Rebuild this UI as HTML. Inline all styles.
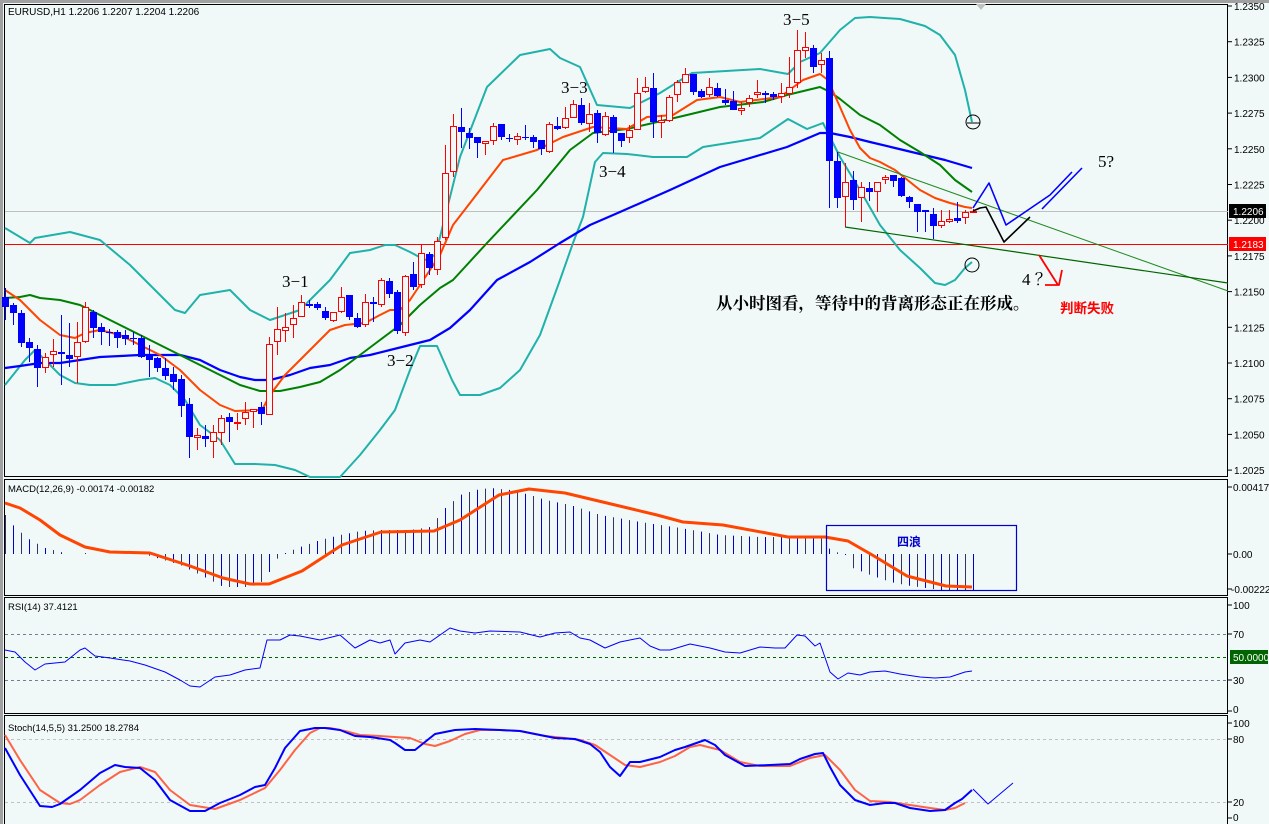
<!DOCTYPE html>
<html><head><meta charset="utf-8"><style>
html,body{margin:0;padding:0;background:#f0f8f8;}
svg{display:block;}
.ax{font-family:"Liberation Sans",sans-serif;font-size:10px;fill:#000;}
.lb{font-family:"Liberation Sans",sans-serif;font-size:9.5px;fill:#000;}
.wv{font-family:"Liberation Serif","Noto Serif CJK SC",serif;font-size:17px;fill:#000;}
</style></head><body>
<svg id="s" width="1269" height="824" viewBox="0 0 1269 824" xmlns="http://www.w3.org/2000/svg">
<rect x="0" y="0" width="1269" height="824" fill="#f0f8f8"/>
<rect x="0" y="0" width="1269" height="3" fill="#a0a0a0"/>
<rect x="0" y="0" width="3" height="824" fill="#a0a0a0"/>
<rect x="4.5" y="4.5" width="1223" height="472" fill="#f0f8f8" stroke="#000"/>
<rect x="4.5" y="479.5" width="1223" height="116" fill="#f0f8f8" stroke="#000"/>
<rect x="4.5" y="597.5" width="1223" height="116" fill="#f0f8f8" stroke="#000"/>
<rect x="4.5" y="715.5" width="1223" height="110" fill="#f0f8f8" stroke="#000"/>
<polygon points="976,4 986,4 981,10" fill="#c0c0c0"/>
<g id="g"></g>
<text class="lb" x="8" y="15" style="font-size:10px">EURUSD,H1  1.2206 1.2207 1.2204 1.2206</text>
<text class="lb" x="8" y="492">MACD(12,26,9) -0.00174 -0.00182</text>
<text class="lb" x="8" y="610">RSI(14) 37.4121</text>
<text class="lb" x="8" y="731">Stoch(14,5,5) 31.2500 18.2784</text>
<text class="wv" x="783" y="25">3−5</text>
<text class="wv" x="561" y="93">3−3</text>
<text class="wv" x="599" y="177">3−4</text>
<text class="wv" x="282" y="287">3−1</text>
<text class="wv" x="387" y="366">3−2</text>
<text class="wv" x="1098" y="167">5?</text>
<text class="wv" x="1022" y="285">4 ？</text>
<text x="716" y="309" style="font-family:'Liberation Serif','Noto Serif CJK SC',serif;font-size:16.5px;font-weight:bold;fill:#000">从小时图看，等待中的背离形态正在形成。</text>
<text x="1060" y="313" style="font-family:'Liberation Sans','Noto Sans CJK SC',sans-serif;font-size:13.5px;font-weight:bold;fill:#ff0000">判断失败</text>
<rect x="826.5" y="525.5" width="190" height="65" fill="none" stroke="#0000cc" stroke-width="1.2"/>
<text x="897" y="546" style="font-family:'Liberation Sans','Noto Sans CJK SC',sans-serif;font-size:12px;font-weight:bold;fill:#0000cc">四浪</text>
<g class="ax" id="ax"></g>
<rect x="1229" y="204" width="37" height="14" fill="#000"/>
<text class="ax" x="1233" y="215" style="fill:#fff">1.2206</text>
<rect x="1229" y="237" width="37" height="14" fill="#ff0000"/>
<text class="ax" x="1233" y="248" style="fill:#fff">1.2183</text>
<text class="ax" x="1233" y="491">0.00417</text>
<text class="ax" x="1233" y="558">0.00</text>
<text class="ax" x="1231" y="593">-0.00222</text>
<text class="ax" x="1233" y="609">100</text>
<text class="ax" x="1233" y="638">70</text>
<rect x="1230" y="650" width="38" height="14" fill="#006400"/>
<text class="ax" x="1233" y="661" style="fill:#fff">50.0000</text>
<text class="ax" x="1233" y="684">30</text>
<text class="ax" x="1233" y="713">0</text>
<text class="ax" x="1233" y="727">100</text>
<text class="ax" x="1233" y="743">80</text>
<text class="ax" x="1233" y="806">20</text>
<text class="ax" x="1233" y="821">0</text>
</svg>
<script>
(function(){
var NS="http://www.w3.org/2000/svg",G=document.getElementById("g");
function el(t,a){var e=document.createElementNS(NS,t);for(var k in a)e.setAttribute(k,a[k]);G.appendChild(e);return e;}
function pl(p,c,w){var s=[];for(var i=0;i<p.length;i+=2)s.push(p[i]+","+p[i+1]);return el("polyline",{points:s.join(" "),fill:"none",stroke:c,"stroke-width":w,"stroke-linejoin":"round"});}
function interp(p,x){for(var i=0;i<p.length-2;i+=2){if(x<=p[i+2]){var t=(x-p[i])/(p[i+2]-p[i]);return p[i+1]+t*(p[i+3]-p[i+1]);}}return p[p.length-1];}
var AX=document.getElementById("ax");
for(var i=0;i<14;i++){var y=6+i*35.7;var v=(1.2350-i*0.0025).toFixed(4);
 var t=document.createElementNS(NS,"text");t.setAttribute("x",1234);t.setAttribute("y",y+4);t.setAttribute("class","ax");t.textContent=v;AX.appendChild(t);
 el("line",{x1:1228,x2:1232,y1:y,y2:y,stroke:"#000"});}
[487,554,589,605,634,680,711,723,739,802,818].forEach(function(y){el("line",{x1:1228,x2:1232,y1:y,y2:y,stroke:"#000"});});
el("line",{x1:5,x2:1228,y1:211.5,y2:211.5,stroke:"#c0c0c0"});
el("line",{x1:5,x2:1228,y1:244.5,y2:244.5,stroke:"#ff0000"});
el("line",{x1:5,x2:1228,y1:634.5,y2:634.5,stroke:"#708090","stroke-dasharray":"3,3"});
el("line",{x1:5,x2:1228,y1:657.5,y2:657.5,stroke:"#006400","stroke-dasharray":"3,3"});
el("line",{x1:5,x2:1228,y1:680.5,y2:680.5,stroke:"#708090","stroke-dasharray":"3,3"});
el("line",{x1:5,x2:1228,y1:739.5,y2:739.5,stroke:"#c0c0c0","stroke-dasharray":"3,3"});
el("line",{x1:5,x2:1228,y1:802.5,y2:802.5,stroke:"#c0c0c0","stroke-dasharray":"3,3"});
var up=[5,228,30,243,35,238,70,232,100,240,130,265,175,310,185,313,200,295,230,290,250,310,270,320,300,310,330,280,350,253,370,250,385,245,395,245,410,252,425,260,435,255,440,237,460,157,487,87,520,55,550,49,560,58,580,67,597,105,630,108,660,93,692,73,760,69,788,74,800,62,820,53,840,30,855,18,870,17,900,19,925,26,940,35,955,55,965,90,972,122];
var lo=[5,385,25,360,35,350,45,360,60,375,75,383,90,385,115,385,140,380,155,378,170,385,185,400,200,425,220,440,235,464,255,464,275,465,295,470,310,477,340,477,360,455,380,430,395,410,410,370,420,346,437,346,452,380,460,395,480,395,500,388,520,370,540,335,560,280,573,243,583,217,595,162,603,153,627,154,653,157,687,157,703,147,760,138,788,119,807,129,823,123,840,157,860,190,880,225,900,250,920,268,935,283,945,285,955,280,965,268,972,262];
pl(up,"#20b2aa",2);pl(lo,"#20b2aa",2);
pl([5,368,20,366,40,363,60,363,80,360,100,357,140,355,180,355,200,360,220,370,240,377,255,380,270,380,290,375,310,368,330,365,350,358,370,355,390,350,410,345,430,340,450,328,470,310,497,280,530,262,560,243,590,225,620,212,670,190,720,167,787,147,820,133,830,133,850,137,870,142,895,148,920,154,945,160,972,168],"#0000ff",2.2);
pl([5,298,20,297,30,295,40,298,60,300,80,305,100,315,120,325,140,335,160,345,180,355,200,365,220,375,240,385,260,391,280,391,300,387,320,382,340,370,360,355,380,340,400,325,420,305,440,288,453,280,487,243,537,190,570,150,593,133,627,129,653,123,687,115,720,107,763,102,787,95,820,87,830,92,840,99,860,115,880,125,900,140,920,152,940,165,955,180,972,192],"#008000",2);
pl([5,290,20,300,40,320,60,335,75,338,85,333,100,330,120,335,140,345,160,355,180,370,200,390,220,405,235,411,262,410,270,395,285,375,300,360,315,345,330,330,345,325,365,323,380,315,390,310,400,310,410,300,420,285,430,270,440,255,453,225,470,203,503,160,537,150,563,137,593,127,627,129,647,117,673,115,697,100,720,97,740,102,780,97,803,80,820,74,828,80,840,107,850,130,860,148,870,158,880,162,895,170,905,178,920,190,935,198,950,203,965,207,972,208],"#ff4500",2);
var C=[[297,307,288,320,1],[305,313,303,325,1],[313,343,310,347,1],[342,348,338,362,1],[349,368,345,387,1],[368,357,353,373,0],[355,351,339,367,0],[352,354,315,385,1],[355,359,323,367,1],[357,342,322,383,0],[342,307,302,343,0],[312,328,310,338,1],[327,332,323,345,1],[332,332,329,346,1],[332,338,330,348,1],[335,339,330,345,1],[338,339,332,345,1],[338,357,335,358,1],[355,360,345,377,1],[358,368,357,372,1],[368,376,358,380,1],[374,382,367,390,1],[379,406,375,417,1],[404,437,398,458,1],[438,435,428,450,0],[436,439,425,447,1],[442,432,425,458,0],[433,418,415,445,0],[417,422,413,442,1],[424,422,413,430,0],[419,412,402,425,0],[412,409,409,428,0],[407,414,402,425,1],[415,344,337,415,0],[342,329,307,355,0],[331,327,313,342,0],[325,318,305,338,0],[317,302,295,317,0],[304,306,300,308,1],[304,308,302,310,1],[311,318,307,320,1],[321,312,312,322,0],[312,297,287,313,0],[295,317,295,320,1],[318,327,313,328,1],[325,302,294,327,0],[302,304,297,322,1],[305,280,278,307,0],[281,294,278,298,1],[292,331,290,334,1],[333,276,275,336,0],[274,287,262,290,1],[285,253,245,288,0],[254,268,252,275,1],[270,241,237,275,0],[238,173,145,240,0],[172,126,114,177,0],[127,132,108,148,1],[133,138,128,149,1],[137,143,137,158,1],[144,141,141,155,0],[141,126,123,145,0],[124,137,124,140,1],[138,138,134,142,1],[140,136,133,145,0],[137,138,125,140,1],[137,142,135,148,1],[140,149,140,155,1],[152,124,122,153,0],[126,129,117,130,1],[128,118,107,129,0],[118,104,100,118,0],[105,123,98,125,1],[124,114,103,132,0],[113,133,110,143,1],[135,116,112,136,0],[117,133,115,153,1],[133,141,133,147,1],[138,130,125,143,0],[130,93,78,130,0],[92,87,77,93,0],[88,122,73,138,1],[123,120,115,138,0],[121,97,95,122,0],[95,82,80,102,0],[83,74,68,83,0],[74,92,74,95,1],[91,97,89,98,1],[95,87,78,97,0],[88,96,83,97,1],[100,103,89,105,1],[101,110,91,110,1],[111,108,102,115,0],[103,98,95,107,0],[95,92,80,98,0],[93,95,91,103,1],[94,97,92,100,1],[97,93,83,103,0],[94,87,57,98,0],[83,50,30,88,0],[51,47,32,58,0],[48,67,45,73,1],[65,60,53,73,0],[58,161,51,208,1],[161,198,152,208,1],[197,182,163,227,0],[180,200,171,210,1],[198,187,182,222,0],[188,192,182,201,1],[192,182,182,212,0],[180,177,175,184,0],[175,181,175,187,1],[178,196,177,197,1],[197,202,196,208,1],[204,212,204,232,1],[210,212,210,232,1],[214,226,208,239,1],[226,221,210,228,0],[222,219,210,223,0],[218,221,202,223,1],[218,212,210,224,0],[212,211,209,213,0]];
for(var i=0;i<C.length;i++){var c=C[i],bx=5+8*i,o=c[0],cl=c[1],hi=c[2],lw=c[3],dn=c[4];
 var col=dn?"#0000ff":"#ff0000";var bt=Math.min(o,cl),bb=Math.max(o,cl);
 el("line",{x1:bx+0.5,x2:bx+0.5,y1:hi,y2:lw,stroke:col,"stroke-width":1});
 if(bb-bt<1){el("line",{x1:bx-3,x2:bx+4,y1:bt+0.5,y2:bt+0.5,stroke:col});}
 else if(dn){el("rect",{x:bx-3,y:bt,width:7,height:bb-bt,fill:col});}
 else{el("rect",{x:bx-2.5,y:bt+0.5,width:6,height:Math.max(1,bb-bt-1),fill:"#f0f8f8",stroke:col});}}
el("line",{x1:838,y1:152,x2:1228,y2:291,stroke:"#228b22","stroke-width":1});
el("line",{x1:845,y1:227,x2:1228,y2:283,stroke:"#006400","stroke-width":1.2});
pl([973,208,989,183,1006,225,1050,195,1072,172],"#0000ff",1.6);
pl([1042,209,1082,168],"#0000ff",1.6);
pl([973,211,980,208,986,207,1004,242,1030,217],"#000",1.6);
pl([1039,255,1058,285],"#ff0000",1.8);pl([1045,285,1059,285,1062,270],"#ff0000",1.8);
el("circle",{cx:973,cy:122,r:7,fill:"none",stroke:"#000"});el("line",{x1:967,x2:980,y1:123,y2:123,stroke:"#000"});
el("circle",{cx:972,cy:265,r:7,fill:"none",stroke:"#000"});
var H=[5,515,15,528,30,540,45,548,60,552,70,555,85,553,140,554,150,556,180,565,210,580,223,587,250,587,265,580,275,560,285,553,300,547,320,540,340,535,360,531,380,530,410,530,430,527,445,508,460,495,475,490,490,488,510,490,530,495,545,500,570,505,600,515,640,522,680,528,720,535,760,537,800,537,820,536,830,550,845,555,850,567,870,575,890,582,910,586,940,590,972,590];
for(var i=0;i<=121;i++){var hx=5+8*i;var hy=interp(H,hx);if(Math.abs(hy-554)<1)continue;el("line",{x1:hx+0.5,x2:hx+0.5,y1:554,y2:hy,stroke:(i%2?"#0000cc":"#333366"),"stroke-width":1});}
pl([5,503,20,508,40,520,60,535,85,547,110,552,150,553,190,566,223,578,250,584,269,584,302,571,342,545,381,532,434,531,460,520,499,495,529,489,565,493,657,515,683,522,723,525,788,537,825,537,848,541,874,556,907,576,946,586,972,587],"#ff4500",3);
pl([5,650,15,652,25,662,35,670,45,664,65,662,80,650,85,648,95,656,110,658,130,661,145,665,165,672,180,680,190,686,200,687,215,677,230,675,245,670,260,668,267,640,280,640,290,635,300,636,320,640,340,635,355,648,370,640,380,643,390,640,395,654,405,643,420,640,430,642,450,628,460,631,475,633,490,631,520,632,540,637,555,633,570,632,580,638,590,640,605,648,620,642,640,638,650,646,660,650,670,650,690,644,710,648,725,652,740,653,760,647,775,648,785,648,797,635,805,636,815,646,820,643,830,672,838,679,848,673,860,675,870,672,885,671,900,674,920,677,935,678,950,677,965,672,972,671],"#0000ff",1);
pl([5,735,20,760,40,790,60,803,70,804,80,800,100,785,120,772,140,767,155,772,170,790,190,805,215,809,240,800,265,788,280,770,295,750,310,733,320,728,330,728,345,731,360,735,380,736,410,738,425,744,435,746,450,741,465,734,480,730,500,730,520,731,545,736,565,738,580,740,595,745,610,755,625,765,640,767,660,762,675,756,690,747,700,745,720,750,740,762,760,766,790,766,810,758,825,755,840,770,855,790,870,801,890,802,910,805,930,808,945,810,955,808,965,803],"#ff6347",2);
pl([5,748,20,775,40,806,52,807,60,804,70,797,80,790,100,773,115,765,125,767,140,768,155,780,170,800,190,811,205,811,220,803,240,795,255,787,265,785,275,768,285,748,300,731,315,728,325,728,340,730,355,736,370,737,390,740,395,743,405,750,415,750,425,742,435,734,455,730,475,729,500,730,520,731,540,735,555,738,575,739,590,744,600,752,610,767,620,776,630,762,640,762,660,757,675,750,685,747,705,740,715,745,725,755,745,766,770,765,790,764,800,759,815,754,823,753,830,767,840,785,855,800,870,805,885,803,895,803,910,808,930,811,945,810,955,803,962,799,972,790],"#0000ff",2);
pl([973,789,988,804,1013,783],"#0000ff",1);
})();
</script>
</body></html>
